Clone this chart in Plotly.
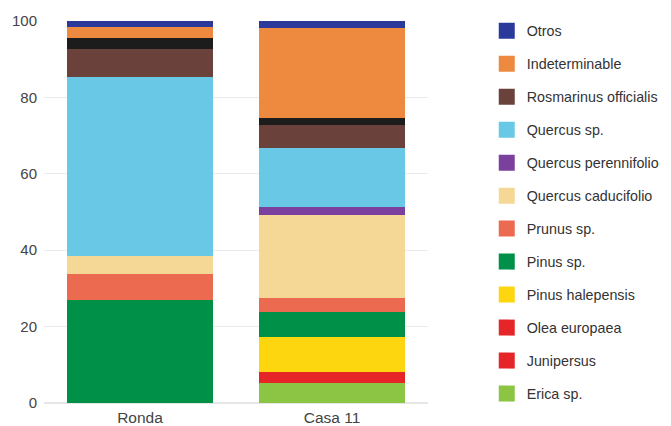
import plotly.graph_objects as go

sites = ["Ronda", "Casa 11"]

# stacked from bottom to top
erica = [0, 5.3]
junipersus = [0, 1.3]
olea = [0, 1.4]
pinus_halepensis = [0, 9.4]
pinus_sp = [27.0, 6.5]
prunus = [6.9, 3.5]
quercus_caducifolio = [4.7, 21.8]
quercus_perennifolio = [0, 2.2]
quercus_sp = [46.8, 15.3]
rosmarinus = [7.2, 6.1]
sin_nombre = [2.9, 1.7]
indeterminable = [3.0, 23.6]
otros = [1.5, 1.9]

series = [
    ("Erica sp.", erica, "#8cc443", True),
    ("Junipersus", junipersus, "#e52528", True),
    ("Olea europaea", olea, "#e52528", True),
    ("Pinus halepensis", pinus_halepensis, "#fdd60f", True),
    ("Pinus sp.", pinus_sp, "#009047", True),
    ("Prunus sp.", prunus, "#eb6a50", True),
    ("Quercus caducifolio", quercus_caducifolio, "#f5d796", True),
    ("Quercus perennifolio", quercus_perennifolio, "#7b3f9e", True),
    ("Quercus sp.", quercus_sp, "#69c8e6", True),
    ("Rosmarinus officialis", rosmarinus, "#6a413b", True),
    ("", sin_nombre, "#1c1c1c", False),
    ("Indeterminable", indeterminable, "#ee8a40", True),
    ("Otros", otros, "#2b3a9a", True),
]

fig = go.Figure()
for name, vals, color, _ in series:
    fig.add_trace(go.Bar(x=sites, y=vals, name=name, marker=dict(color=color, line=dict(width=0)),
                         showlegend=False))

# legend entries, top to bottom
for i, (name, vals, color, show) in enumerate(reversed(series)):
    if not show:
        continue
    fig.add_trace(go.Scatter(x=[None], y=[None], mode="markers", name=name,
                             legendgroup="g%d" % i,
                             marker=dict(symbol="square", size=16, color=color)))

fig.update_layout(
    width=663, height=418,
    margin=dict(l=36, r=243, t=13, b=23, autoexpand=False),
    barmode="stack", bargap=0.24,
    plot_bgcolor="white", paper_bgcolor="white",
    font=dict(family="Liberation Sans, Arial, sans-serif", size=14, color="#444"),
    xaxis=dict(showgrid=False, tickfont=dict(size=15.5, color="#444"), ticks="",
               ticklabelstandoff=3),
    yaxis=dict(range=[0, 100], dtick=20, showgrid=True, gridcolor="#ebebeb",
               zeroline=True, zerolinecolor="#e6e6e6", tickfont=dict(size=15, color="#444"),
               ticks="", ticklabelstandoff=6),
    legend=dict(x=1.153, xanchor="left", y=1.016, yanchor="top", traceorder="grouped",
                tracegroupgap=11.4, font=dict(size=14.3, color="#333"), itemsizing="trace",
                maxheight=1.0),
)

fig.write_html("out.html")
